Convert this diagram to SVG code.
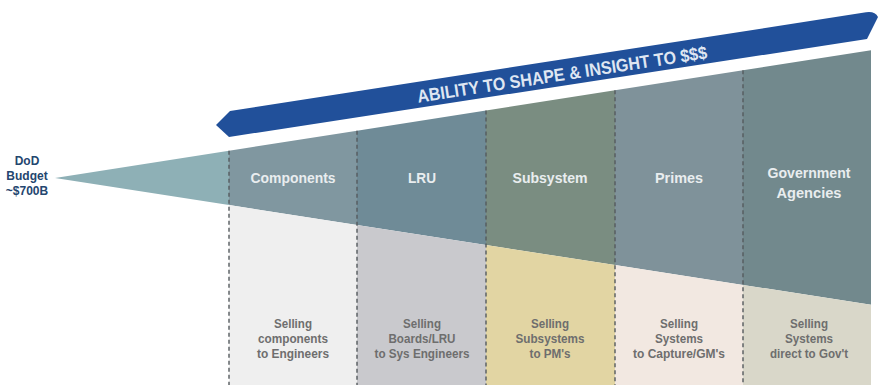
<svg xmlns="http://www.w3.org/2000/svg" width="879" height="385" viewBox="0 0 879 385">
<style>
.hd{font-family:"Liberation Sans",Arial,sans-serif;font-weight:bold;font-size:15.5px;fill:#e9edef;text-anchor:middle}
.lo{font-family:"Liberation Sans",Arial,sans-serif;font-weight:bold;font-size:13.5px;fill:#6e6e6e;text-anchor:middle}
.dod{font-family:"Liberation Sans","DejaVu Sans",sans-serif;font-weight:bold;font-size:12px;fill:#24466f;text-anchor:middle}
.ban{font-family:"Liberation Sans",Arial,sans-serif;font-weight:bold;font-size:18px;fill:#dfe6f2;text-anchor:middle}
.div{stroke:#555b5e;stroke-width:1.4;stroke-dasharray:4 3;fill:none}
</style>
<rect width="879" height="385" fill="#ffffff"/>
<g id="budget">
<polygon points="55,178 229,150.7 229,205" fill="#8eb0b6"/>
<text class="dod" x="27" y="165">DoD</text>
<text class="dod" x="27" y="180">Budget</text>
<text class="dod" x="27" y="195">~$700B</text>
</g>
<g id="banner">
<path d="M216,125 L230,111 L866,12.3 Q875,11 878,17 L867,39 L229,137 Z" fill="#21509a"/>
<text class="ban" transform="translate(563,80.5) rotate(-8.7)" x="0" y="0" textLength="293" lengthAdjust="spacingAndGlyphs">ABILITY TO SHAPE &amp; INSIGHT TO $$$</text>
</g>
<g id="components">
<polygon points="229,150.7 357,130.7 357,224.9 229,205" fill="#8097a0"/>
<polygon points="229,205 357,224.9 357,385 229,385" fill="#efefef"/>
<text class="hd" x="293" y="183" textLength="85" lengthAdjust="spacingAndGlyphs">Components</text>
<text class="lo" x="293" y="327.5" textLength="38" lengthAdjust="spacingAndGlyphs">Selling</text>
<text class="lo" x="293" y="342.5" textLength="70" lengthAdjust="spacingAndGlyphs">components</text>
<text class="lo" x="293" y="357.5" textLength="72" lengthAdjust="spacingAndGlyphs">to Engineers</text>
</g>
<g id="lru">
<polygon points="357,130.7 486,110.5 486,245 357,224.9" fill="#6f8b97"/>
<polygon points="357,224.9 486,245 486,385 357,385" fill="#c9c9cd"/>
<text class="hd" x="422" y="183" textLength="28" lengthAdjust="spacingAndGlyphs">LRU</text>
<text class="lo" x="422" y="327.5" textLength="38" lengthAdjust="spacingAndGlyphs">Selling</text>
<text class="lo" x="422" y="342.5" textLength="67" lengthAdjust="spacingAndGlyphs">Boards/LRU</text>
<text class="lo" x="422" y="357.5" textLength="95" lengthAdjust="spacingAndGlyphs">to Sys Engineers</text>
</g>
<g id="subsystem">
<polygon points="486,110.5 615,90.3 615,265.1 486,245" fill="#7a8d81"/>
<polygon points="486,245 615,265.1 615,385 486,385" fill="#e2d5a3"/>
<text class="hd" x="550" y="183" textLength="75" lengthAdjust="spacingAndGlyphs">Subsystem</text>
<text class="lo" x="550" y="327.5" textLength="38" lengthAdjust="spacingAndGlyphs">Selling</text>
<text class="lo" x="550" y="342.5" textLength="69" lengthAdjust="spacingAndGlyphs">Subsystems</text>
<text class="lo" x="550" y="357.5" textLength="41" lengthAdjust="spacingAndGlyphs">to PM's</text>
</g>
<g id="primes">
<polygon points="615,90.3 743,70.2 743,284.9 615,265.1" fill="#7f929a"/>
<polygon points="615,265.1 743,284.9 743,385 615,385" fill="#f2e8e1"/>
<text class="hd" x="679" y="183" textLength="48" lengthAdjust="spacingAndGlyphs">Primes</text>
<text class="lo" x="679" y="327.5" textLength="38" lengthAdjust="spacingAndGlyphs">Selling</text>
<text class="lo" x="679" y="342.5" textLength="48" lengthAdjust="spacingAndGlyphs">Systems</text>
<text class="lo" x="679" y="357.5" textLength="92" lengthAdjust="spacingAndGlyphs">to Capture/GM's</text>
</g>
<g id="government">
<polygon points="743,70.2 871,50.2 871,304.8 743,284.9" fill="#72898d"/>
<polygon points="743,284.9 871,304.8 871,385 743,385" fill="#d9d7c9"/>
<text class="hd" x="809" y="178" textLength="83" lengthAdjust="spacingAndGlyphs">Government</text>
<text class="hd" x="809" y="198" textLength="65" lengthAdjust="spacingAndGlyphs">Agencies</text>
<text class="lo" x="809" y="327.5" textLength="38" lengthAdjust="spacingAndGlyphs">Selling</text>
<text class="lo" x="809" y="342.5" textLength="48" lengthAdjust="spacingAndGlyphs">Systems</text>
<text class="lo" x="809" y="357.5" textLength="78" lengthAdjust="spacingAndGlyphs">direct to Gov't</text>
</g>
<g id="dividers">
<line class="div" x1="229" y1="150.7" x2="229" y2="385"/>
<line class="div" x1="357" y1="130.7" x2="357" y2="385"/>
<line class="div" x1="486" y1="110.5" x2="486" y2="385"/>
<line class="div" x1="615" y1="90.3" x2="615" y2="385"/>
<line class="div" x1="743" y1="70.2" x2="743" y2="385"/>
</g>
</svg>
